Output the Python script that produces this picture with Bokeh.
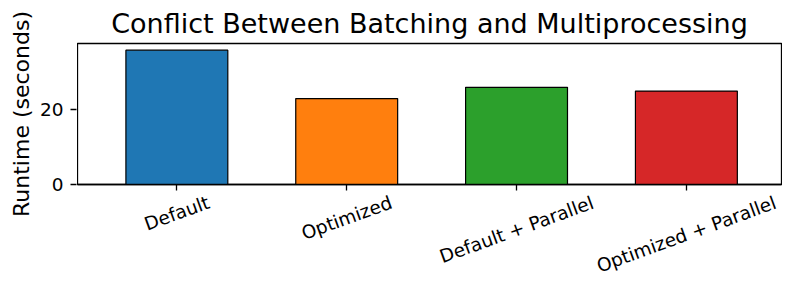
import math
from bokeh.plotting import figure
from bokeh.layouts import column, row
from bokeh.models import Range1d, FixedTicker, ColumnDataSource
from bokeh.core.properties import value
from bokeh.embed import file_html
from bokeh.resources import INLINE

# ---- data ----
categories = ["Default", "Optimized", "Default + Parallel", "Optimized + Parallel"]
runtimes = [35.8, 22.9, 25.9, 24.9]
colors = ["#1f77b4", "#ff7f0e", "#2ca02c", "#d62728"]
y_ticks = [0, 20]
y_label = "Runtime (seconds)"
title = "Conflict Between Batching and Multiprocessing"

FONT = "DejaVu Sans"
TICK_PX = 18.5
ANGLE = math.radians(20)

W, H = 782, 275
WL = 77                   # left figure carrying the y axis
BT = 43                   # top border (title)
FRAME_BOTTOM = 184
H1 = 191                  # main plot height (x tick marks below the frame)
B1 = H1 - FRAME_BOTTOM
H2 = H - H1               # strip holding the rotated category labels
LABEL_GAP = 0

# approximate DejaVu Sans advance widths (em) for label layout
_W = {"D": 0.770, "e": 0.615, "f": 0.352, "a": 0.613, "u": 0.634, "l": 0.278,
      "t": 0.392, "O": 0.787, "p": 0.635, "i": 0.278, "m": 0.974, "z": 0.525,
      "d": 0.635, " ": 0.318, "+": 0.838, "P": 0.603, "r": 0.411}


def text_w(s, px):
    return sum(_W.get(c, 0.6) for c in s) * px


def blank(fig):
    fig.grid.visible = False
    fig.outline_line_color = None
    fig.background_fill_color = "white"
    fig.border_fill_color = "white"


def style_axis(ax):
    ax.axis_line_color = "black"
    ax.axis_line_width = 1.3
    ax.major_tick_line_color = "black"
    ax.major_tick_line_width = 1.3
    ax.major_tick_out = 6
    ax.major_tick_in = 0
    ax.minor_tick_line_color = None
    ax.major_label_standoff = 7
    ax.major_label_text_font = FONT
    ax.major_label_text_font_size = f"{TICK_PX}px"
    ax.major_label_text_color = "black"


xs = list(range(len(categories)))
src = ColumnDataSource(dict(x=xs, top=runtimes, color=colors))

x_range = Range1d(-0.585, len(categories) - 1 + 0.56)
y_range = Range1d(0, max(runtimes) * 1.05)

# ---- main plot ----
p = figure(width=W - WL, height=H1, output_backend="svg", toolbar_location=None,
           x_range=x_range, y_range=y_range, y_axis_location=None,
           min_border_left=0, min_border_right=1, min_border_top=BT,
           min_border_bottom=B1, title=title)
p.vbar(x="x", top="top", width=0.6, bottom=0, fill_color="color",
       line_color="black", line_width=1.2, source=src)

p.title.align = "center"
p.title.text_font = FONT
p.title.text_font_size = "27px"
p.title.text_font_style = "normal"
p.title.text_color = "black"

p.grid.visible = False
p.outline_line_color = "black"
p.outline_line_width = 1.3
p.background_fill_color = "white"
p.border_fill_color = "white"

style_axis(p.xaxis[0])
p.xaxis.ticker = FixedTicker(ticks=xs)
p.xaxis.major_label_overrides = {i: "" for i in xs}
p.xaxis.major_label_standoff = 0
p.xaxis.major_label_text_font_size = "1px"

# ---- left figure: y axis with ticks, tick labels and title ----
L = figure(width=WL, height=H, output_backend="svg", toolbar_location=None,
           x_range=Range1d(0, 1), y_range=y_range, x_axis_location=None,
           min_border_left=WL - 1, min_border_right=0, min_border_top=BT,
           min_border_bottom=H - FRAME_BOTTOM)
blank(L)
style_axis(L.yaxis[0])
L.yaxis.axis_line_color = None
L.yaxis.ticker = FixedTicker(ticks=y_ticks)
L.yaxis.axis_label = y_label
L.yaxis.axis_label_text_font = FONT
L.yaxis.axis_label_text_font_size = "22px"
L.yaxis.axis_label_text_font_style = "normal"
L.yaxis.axis_label_text_color = "black"
L.yaxis.axis_label_standoff = 3

# ---- strip with rotated, centred category labels (matplotlib style) ----
q = figure(width=W - WL, height=H2, output_backend="svg", toolbar_location=None,
           x_range=x_range, y_range=Range1d(-H2, 0),
           x_axis_location=None, y_axis_location=None,
           min_border_left=0, min_border_right=1, min_border_top=0,
           min_border_bottom=0)
blank(q)

h = TICK_PX * 1.164
label_y = []
for c in categories:
    Lw = text_w(c, TICK_PX)
    Hb = Lw * math.sin(ANGLE) + h * math.cos(ANGLE)
    label_y.append(-(LABEL_GAP + Hb / 2))

lab_src = ColumnDataSource(dict(x=xs, y=label_y, text=categories))
q.text(x="x", y="y", text="text", source=lab_src, angle=ANGLE,
       text_align="center", text_baseline="middle",
       text_font=value(FONT), text_font_size=value(f"{TICK_PX}px"),
       text_color="black")

layout = row(L, column(p, q, spacing=0), spacing=0)
open("out.html", "w").write(file_html(layout, INLINE))
